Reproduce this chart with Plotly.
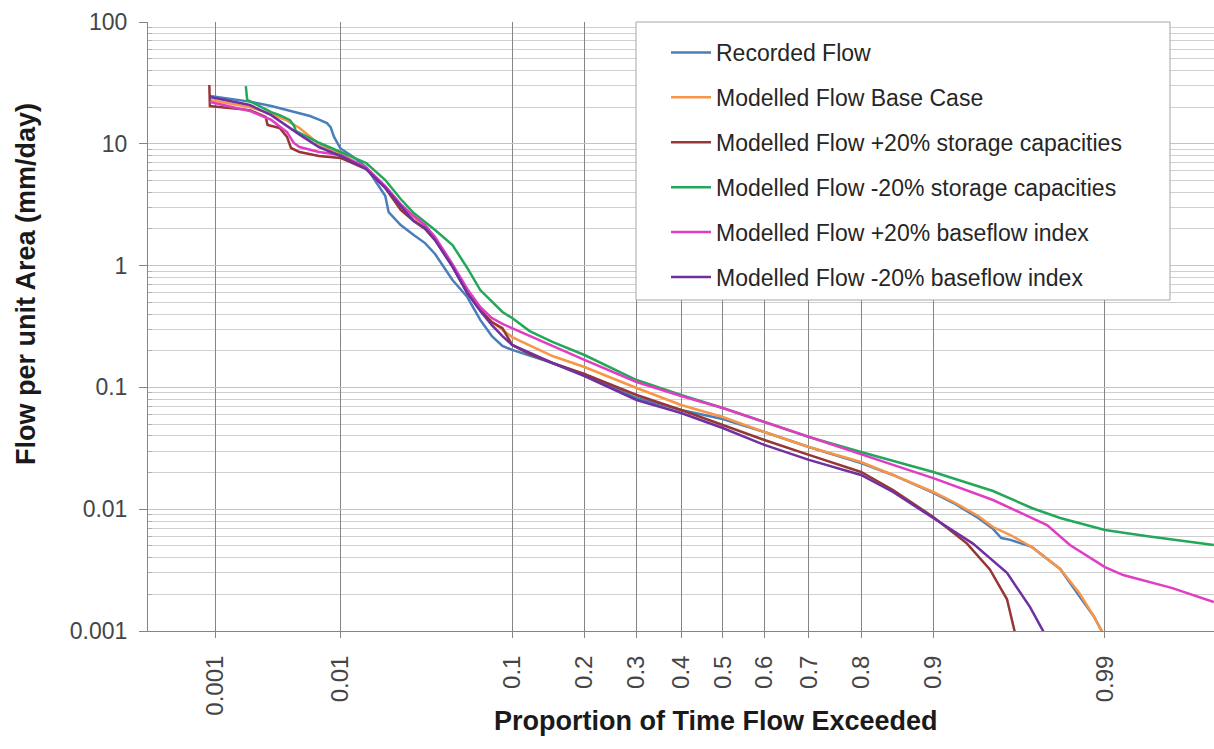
import plotly.graph_objects as go
from statistics import NormalDist

# ---------------- data (proportion of time exceeded, flow mm/day) ----------------
recorded_p = [0.0009, 0.0015, 0.002, 0.003, 0.004, 0.005, 0.006, 0.007, 0.008, 0.0085, 0.009, 0.01,
              0.012, 0.015, 0.02, 0.021, 0.025, 0.03, 0.035, 0.04, 0.05, 0.06, 0.07, 0.08, 0.09, 0.1,
              0.15, 0.2, 0.3, 0.4, 0.5, 0.6, 0.7, 0.8, 0.85, 0.9, 0.92, 0.94, 0.95, 0.955, 0.96, 0.97,
              0.975, 0.98, 0.985, 0.988, 0.9897]
recorded_q = [24.7, 23.1, 22.2, 20.4, 18.95, 17.9, 16.9, 15.8, 14.8, 13.7, 11.4, 9.15,
              7.94, 6.45, 3.73, 2.75, 2.15, 1.78, 1.53, 1.245, 0.762, 0.552, 0.358, 0.264, 0.219, 0.203,
              0.1586, 0.1265, 0.0818, 0.0652, 0.055, 0.043, 0.0324, 0.0239, 0.0191, 0.0136, 0.01124,
              0.00847, 0.0069, 0.0058, 0.0056, 0.0049, 0.00405, 0.00323, 0.00194, 0.00133, 0.00095]

base_p = [0.0009, 0.002, 0.003, 0.004, 0.005, 0.007, 0.01, 0.015, 0.02, 0.025, 0.03, 0.035, 0.04,
          0.05, 0.06, 0.07, 0.08, 0.09, 0.1, 0.15, 0.2, 0.3, 0.4, 0.5, 0.6, 0.7, 0.8, 0.85, 0.9,
          0.92, 0.94, 0.95, 0.96, 0.97, 0.975, 0.98, 0.985, 0.988, 0.9897]
base_q = [22.9, 20.0, 17.6, 15.5, 13.5, 9.96, 8.25, 6.33, 4.42, 2.97, 2.41, 2.07, 1.685,
          1.0, 0.607, 0.44, 0.344, 0.296, 0.259, 0.181, 0.147, 0.0989, 0.0717, 0.0571, 0.043,
          0.0324, 0.0244, 0.0191, 0.01384, 0.01146, 0.00879, 0.00714, 0.00614, 0.0049, 0.00405,
          0.00323, 0.00205, 0.00133, 0.00095]

stor_up_p = [0.00089, 0.0009, 0.002, 0.0027, 0.0028, 0.0035, 0.004, 0.0043, 0.005, 0.007, 0.01,
             0.015, 0.02, 0.025, 0.03, 0.035, 0.04, 0.05, 0.06, 0.07, 0.08, 0.09, 0.1, 0.12, 0.15,
             0.2, 0.3, 0.4, 0.5, 0.6, 0.7, 0.8, 0.85, 0.9, 0.9315, 0.948, 0.9582, 0.9624, 0.9628]
stor_up_q = [30.4, 20.4, 18.9, 16.6, 14.3, 13.5, 11.4, 9.24, 8.56, 7.94, 7.65,
             6.21, 4.34, 2.86, 2.32, 2.0, 1.62, 0.98, 0.596, 0.432, 0.344, 0.307, 0.223, 0.188, 0.1586,
             0.1288, 0.0866, 0.0652, 0.0491, 0.037, 0.0279, 0.0202, 0.01438, 0.00863, 0.00522,
             0.0032, 0.00182, 0.001, 0.0009]

stor_dn_p = [0.00185, 0.0019, 0.003, 0.0035, 0.0042, 0.0045, 0.0047, 0.006, 0.007, 0.01, 0.015,
             0.02, 0.025, 0.03, 0.035, 0.04, 0.05, 0.06, 0.07, 0.08, 0.09, 0.1, 0.12, 0.15, 0.2,
             0.3, 0.4, 0.5, 0.6, 0.7, 0.8, 0.85, 0.9, 0.95, 0.97, 0.98, 0.99, 0.995, 0.997, 0.9986]
stor_dn_q = [29.8, 22.9, 18.2, 17.2, 15.7, 14.3, 12.7, 11.2, 10.2, 8.56, 6.96,
             5.04, 3.52, 2.70, 2.28, 1.96, 1.476, 0.956, 0.63, 0.502, 0.416, 0.371, 0.29, 0.236,
             0.1845, 0.115, 0.0866, 0.0678, 0.052, 0.0392, 0.0295, 0.0249, 0.0202, 0.0141,
             0.01023, 0.00847, 0.00675, 0.00602, 0.00559, 0.00508]

bfi_up_p = [0.0009, 0.002, 0.003, 0.004, 0.0045, 0.005, 0.007, 0.01, 0.015, 0.02, 0.025, 0.03,
            0.035, 0.04, 0.05, 0.06, 0.07, 0.08, 0.09, 0.1, 0.12, 0.15, 0.2, 0.3, 0.4, 0.5, 0.6,
            0.7, 0.8, 0.85, 0.9, 0.95, 0.9758, 0.9827, 0.99, 0.9926, 0.9969, 0.9986]
bfi_up_q = [22.0, 18.6, 15.7, 12.5, 10.2, 9.41, 8.56, 8.09, 6.39, 4.50, 3.20, 2.55,
            2.15, 1.72, 1.03, 0.643, 0.457, 0.371, 0.332, 0.307, 0.264, 0.219, 0.168, 0.1107,
            0.085, 0.0678, 0.052, 0.0392, 0.0279, 0.0231, 0.018, 0.0119, 0.0074, 0.00508,
            0.00335, 0.00288, 0.00225, 0.00173]

bfi_dn_p = [0.0009, 0.002, 0.003, 0.004, 0.005, 0.007, 0.01, 0.015, 0.02, 0.025, 0.03, 0.035,
            0.04, 0.05, 0.06, 0.07, 0.08, 0.09, 0.1, 0.15, 0.2, 0.3, 0.4, 0.5, 0.6, 0.7, 0.8,
            0.85, 0.9, 0.9361, 0.9582, 0.9693, 0.9744, 0.9748]
bfi_dn_q = [24.2, 20.8, 17.2, 14.0, 11.9, 9.41, 7.94, 6.21, 4.34, 3.09, 2.32, 2.04,
            1.62, 0.98, 0.596, 0.424, 0.325, 0.264, 0.223, 0.1586, 0.124, 0.0788, 0.0616,
            0.0464, 0.0337, 0.0254, 0.0191, 0.01384, 0.00847, 0.00522, 0.003, 0.00157, 0.001, 0.0009]

series_names = ["Recorded Flow", "Modelled Flow Base Case",
                "Modelled Flow +20% storage capacities", "Modelled Flow -20% storage capacities",
                "Modelled Flow +20% baseflow index", "Modelled Flow -20% baseflow index"]
series_colors = ["#4a7ebb", "#f79646", "#953735", "#23a85a", "#e03cc4", "#7030a0"]

x_tick_p = [0.001, 0.01, 0.1, 0.2, 0.3, 0.4, 0.5, 0.6, 0.7, 0.8, 0.9, 0.99]
x_tick_labels = ["0.001", "0.01", "0.1", "0.2", "0.3", "0.4", "0.5", "0.6", "0.7", "0.8", "0.9", "0.99"]
y_tick_vals = [0.001, 0.01, 0.1, 1, 10, 100]
y_tick_labels = ["0.001", "0.01", "0.1", "1", "10", "100"]

# ---------------- figure ----------------
nd = NormalDist()


def zscore(p):
    return nd.inv_cdf(p)


W, H = 1214, 749
ML, MR, MT, MB = 148, 0, 22, 118
PW, PH = W - ML - MR, H - MT - MB


def px_x(px):
    return (px - ML) / PW


def px_y(py):
    return 1 - (py - MT) / PH


FONT = "Liberation Sans, Arial, sans-serif"

data = [(recorded_p, recorded_q), (base_p, base_q), (stor_up_p, stor_up_q),
        (stor_dn_p, stor_dn_q), (bfi_up_p, bfi_up_q), (bfi_dn_p, bfi_dn_q)]

fig = go.Figure()
for (p, q), name, color in zip(data, series_names, series_colors):
    fig.add_trace(go.Scatter(
        x=[zscore(v) for v in p], y=q, mode="lines", name=name, legendgroup=name,
        line=dict(color=color, width=2.5), hoverinfo="name+y"))

minor_vals = [k * 10 ** e for e in range(-3, 2) for k in range(2, 10)]

fig.update_layout(
    width=W, height=H,
    margin=dict(l=ML, r=MR, t=MT, b=MB),
    paper_bgcolor="white", plot_bgcolor="white",
    font=dict(family=FONT, color="#333333"),
    showlegend=True,
    legend=dict(x=px_x(666), xanchor="left", y=px_y(31), yanchor="top",
                bgcolor="rgba(0,0,0,0)", borderwidth=0, tracegroupgap=12,
                font=dict(family=FONT, size=23, color="#262626"), itemwidth=40),
    xaxis=dict(range=[-3.498, 2.990], tickmode="array",
               tickvals=[zscore(v) for v in x_tick_p], ticktext=x_tick_labels,
               tickangle=-90, showgrid=True, gridcolor="#858585", gridwidth=1,
               showline=True, linecolor="#858585", linewidth=1, zeroline=False,
               ticks="outside", ticklen=6, tickcolor="#858585", ticklabelstandoff=8,
               tickfont=dict(family=FONT, size=24, color="#454545")),
    yaxis=dict(type="log", range=[-3, 2], tickmode="array",
               tickvals=y_tick_vals, ticktext=y_tick_labels,
               showgrid=True, gridcolor="#c4c4c4", gridwidth=1,
               showline=True, linecolor="#858585", linewidth=1, zeroline=False,
               ticks="outside", ticklen=8, tickcolor="#858585", ticklabelstandoff=7,
               tickfont=dict(family=FONT, size=23, color="#454545"),
               minor=dict(tickvals=minor_vals, showgrid=True, gridcolor="#cfcfcf",
                          ticks="inside", ticklen=4, tickcolor="#b0b0b0")),
    shapes=[dict(type="rect", xref="paper", yref="paper",
                 x0=px_x(636), x1=px_x(1170), y0=px_y(300), y1=px_y(22),
                 fillcolor="white", line=dict(color="#a6a6a6", width=1), layer="above")],
    annotations=[
        dict(text="<b>Proportion of Time Flow Exceeded</b>", xref="paper", yref="paper",
             x=px_x(716), y=px_y(721), xanchor="center", yanchor="middle", showarrow=False,
             font=dict(family=FONT, size=27, color="#1a1a1a")),
        dict(text="<b>Flow per unit Area (mm/day)</b>", xref="paper", yref="paper",
             x=px_x(26), y=px_y(284), xanchor="center", yanchor="middle", showarrow=False,
             textangle=-90, font=dict(family=FONT, size=27, color="#1a1a1a")),
    ],
)

fig.write_html("out.html")
